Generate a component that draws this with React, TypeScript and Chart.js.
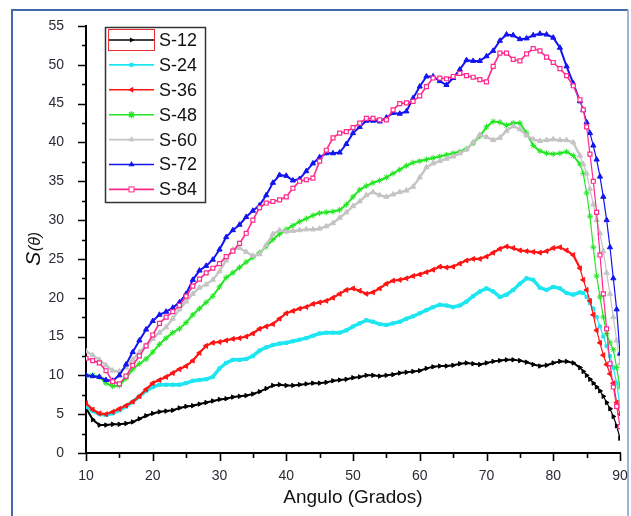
import { useEffect, useRef } from "react";
import { Chart, registerables } from "chart.js";

Chart.register(...registerables);

// Angles (degrees)
const ANGLES = [
  10, 11, 12, 13, 14, 15, 16, 17, 18, 19,
  20, 21, 22, 23, 24, 25, 26, 27, 28, 29,
  30, 31, 32, 33, 34, 35, 36, 37, 38, 39,
  40, 41, 42, 43, 44, 45, 46, 47, 48, 49,
  50, 51, 52, 53, 54, 55, 56, 57, 58, 59,
  60, 61, 62, 63, 64, 65, 66, 67, 68, 69,
  70, 71, 72, 73, 74, 75, 76, 77, 78, 79,
  80, 81, 82, 83, 84,
  84.5, 85, 85.5, 86, 86.5, 87, 87.5, 88, 88.5, 89, 89.5, 90,
];

const S12 = [
  5.8, 4.3, 3.6, 3.6, 3.7, 3.7, 3.8, 4.0, 4.4, 4.8,
  5.1, 5.3, 5.4, 5.5, 5.8, 6.0, 6.1, 6.3, 6.5, 6.7,
  6.9, 7.0, 7.2, 7.3, 7.4, 7.6, 7.9, 8.3, 8.7, 8.8,
  8.7, 8.7, 8.8, 8.9, 9.0, 9.0, 9.1, 9.3, 9.4, 9.5,
  9.7, 9.8, 10.0, 10.0, 9.9, 10.0, 10.1, 10.3, 10.4, 10.5,
  10.6, 10.9, 11.1, 11.2, 11.2, 11.3, 11.5, 11.6, 11.5, 11.4,
  11.6, 11.8, 11.9, 12.0, 12.0, 11.9, 11.7, 11.4, 11.2, 11.3,
  11.6, 11.8, 11.8, 11.6, 11.0,
  10.5, 10.0, 9.5, 9.0, 8.5, 8.0, 7.3, 6.5, 5.7, 4.7, 3.5, 1.9,
];

const S24 = [
  6.0, 5.4, 5.0, 4.9, 5.1, 5.5, 6.0, 6.6, 7.3, 8.0,
  8.5, 8.8, 8.8, 8.8, 8.8, 9.0, 9.3, 9.4, 9.5, 9.8,
  10.9, 11.6, 12.0, 12.0, 12.1, 12.5, 13.2, 13.6, 13.9, 14.1,
  14.2, 14.4, 14.6, 14.8, 15.1, 15.4, 15.5, 15.5, 15.5, 15.8,
  16.3, 16.7, 17.1, 16.9, 16.6, 16.5, 16.7, 16.9, 17.3, 17.6,
  18.0, 18.4, 18.8, 19.1, 19.0, 18.8, 19.0, 19.5, 20.2, 20.8,
  21.2, 20.8, 20.1, 20.4, 21.0, 21.8, 22.5, 22.3, 21.3, 21.0,
  21.4, 21.2, 20.6, 20.4, 20.7,
  20.6, 20.1, 19.3, 18.6, 17.5, 16.3, 15.0, 13.8, 12.5, 11.0, 9.0, 6.0,
];

const S36 = [
  6.4, 5.6, 5.1, 5.0, 5.3, 5.7, 6.1, 6.6, 7.3, 8.2,
  9.0, 9.4, 9.8, 10.3, 10.8, 11.2, 11.9, 12.9, 13.8, 14.2,
  14.3, 14.5, 14.7, 14.8, 15.0, 15.4, 16.0, 16.3, 16.6, 17.3,
  18.0, 18.3, 18.6, 18.8, 19.2, 19.4, 19.6, 20.0, 20.5, 21.0,
  21.2, 20.9, 20.5, 20.7, 21.2, 21.8, 22.2, 22.3, 22.5, 22.8,
  23.0, 23.3, 23.6, 24.0, 23.9, 24.0, 24.4, 24.8, 25.0, 25.0,
  25.3, 25.8, 26.3, 26.6, 26.4, 26.1, 26.0, 25.9, 25.8, 26.0,
  26.4, 26.5, 26.1, 25.5, 23.8,
  22.3, 21.0, 19.6, 17.8, 15.8, 14.2, 12.6, 11.4, 10.2, 9.0, 6.5, 5.0,
];

const S48 = [
  10.0, 10.0, 9.8, 9.0, 8.6, 8.7, 9.6, 10.8, 11.5, 12.1,
  13.0, 14.0, 14.8, 15.5, 16.0, 16.8, 17.8, 18.6, 19.4, 20.2,
  21.4, 22.6, 23.2, 23.9, 24.6, 25.2, 25.8, 26.6, 27.5, 28.2,
  28.8, 29.3, 29.8, 30.2, 30.6, 30.9, 31.0, 31.1, 31.3, 32.0,
  33.0, 33.9, 34.4, 34.8, 35.1, 35.5, 36.0, 36.5, 37.0, 37.4,
  37.6, 37.8, 38.0, 38.2, 38.4, 38.6, 38.8, 39.2, 39.9, 40.8,
  42.0, 42.7, 42.6, 42.2, 42.5, 42.5, 41.2, 39.6, 38.9, 38.6,
  38.5, 38.6, 38.8, 38.3, 37.2,
  36.0, 33.5, 30.5, 26.5, 22.8, 20.1, 17.5, 15.4, 14.2, 13.3, 11.0, 8.5,
];

const S60 = [
  13.1, 12.6, 12.0, 11.3, 10.6, 10.5, 11.0, 12.0, 13.0, 13.8,
  14.7, 15.5, 16.2, 17.3, 18.5, 19.5, 20.5, 21.3, 21.7, 22.3,
  23.4, 24.8, 26.2, 26.4, 25.9, 25.4, 25.6, 26.8, 28.2, 28.7,
  28.5, 28.6, 28.7, 28.8, 28.8, 28.9, 29.2, 29.6, 30.3, 31.0,
  31.8, 32.4, 33.2, 33.6, 33.2, 33.0, 33.3, 33.6, 33.8, 34.3,
  35.5, 36.8, 37.3, 37.6, 37.9, 38.2, 38.6, 39.1, 40.0, 41.0,
  40.7, 40.3, 40.6, 41.5, 42.1, 41.7, 40.9, 40.4, 40.2, 40.3,
  40.4, 40.3, 40.3, 40.0, 38.3,
  37.2, 36.0, 34.0, 32.0, 30.0, 28.3, 26.0, 23.2, 20.5, 17.5, 14.5, 11.5,
];

const S72 = [
  10.0, 9.9, 9.8, 9.4, 9.3, 10.0, 11.4, 13.0, 14.5, 15.9,
  17.0, 17.8, 18.2, 18.7, 19.4, 20.5, 22.3, 23.5, 24.1, 24.9,
  26.2, 27.8, 28.7, 29.4, 30.4, 31.2, 31.9, 33.2, 34.8, 35.8,
  35.7, 35.1, 35.3, 36.3, 37.3, 38.1, 38.6, 38.6, 38.7, 39.8,
  41.2, 42.0, 42.8, 42.8, 42.7, 43.2, 43.8, 43.7, 44.0, 45.7,
  47.2, 48.5, 48.5, 47.9, 47.4, 48.3, 49.4, 50.6, 50.5, 50.5,
  51.1, 51.8, 53.1, 53.9, 53.8, 53.3, 53.4, 53.8, 54.0, 53.9,
  53.5, 52.2, 49.8, 47.6, 45.3,
  44.2, 42.6, 41.2, 39.6, 37.8, 35.6, 33.0, 30.0, 26.5, 22.5, 18.5, 12.8,
];

const S84 = [
  12.2, 11.9, 11.6, 10.6, 9.2, 8.9, 9.9, 11.3, 12.5, 13.8,
  15.2, 16.7, 17.5, 18.2, 19.0, 20.2, 21.5, 22.4, 23.2, 23.8,
  24.4, 25.3, 26.0, 27.0, 28.3, 30.0, 31.6, 32.2, 32.4, 32.6,
  33.0, 34.1, 35.0, 35.2, 35.4, 37.6, 39.0, 40.6, 41.2, 41.4,
  41.9, 42.5, 43.1, 43.1, 42.9, 42.9, 44.2, 45.0, 45.1, 45.3,
  46.0, 47.2, 48.3, 48.3, 48.2, 48.5, 48.9, 48.6, 48.4, 48.1,
  47.8, 49.8, 51.5, 51.5, 50.7, 50.5, 51.4, 52.1, 51.8, 51.0,
  50.3, 49.5, 48.6, 47.3, 45.5,
  44.2, 42.0, 38.5, 35.0, 31.0, 25.5, 20.5, 16.0, 11.5, 8.5, 6.0, 3.4,
];

const SERIES_NAMES = ["S-12", "S-24", "S-36", "S-48", "S-60", "S-72", "S-84"];
const SERIES_VALUES = [S12, S24, S36, S48, S60, S72, S84];
const SERIES_COLORS = ["#000000", "#1ee6f0", "#ff1414", "#22e622", "#c4c4c4", "#1414f0", "#ff2a8c"];
// marker kinds: tr = right triangle, sq = filled square, tl = left triangle, st = star, tu = up triangle, osq = open square
const SERIES_MARKERS = ["tr", "sq", "tl", "st", "tu", "tu", "osq"];
const SERIES_WIDTHS = [2, 3.5, 2.2, 2, 2.4, 2, 1.6];

const X_TICKS = [10, 20, 30, 40, 50, 60, 70, 80, 90];
const Y_TICKS = [0, 5, 10, 15, 20, 25, 30, 35, 40, 45, 50, 55];

const FONT = "Arial, 'Liberation Sans', Helvetica, sans-serif";

function markerStyle(kind: string) {
  switch (kind) {
    case "tr":
      return { pointStyle: "triangle", rotation: 90, radius: 2.5 };
    case "tl":
      return { pointStyle: "triangle", rotation: -90, radius: 2.8 };
    case "sq":
      return { pointStyle: "rect", rotation: 0, radius: 2.2 };
    case "st":
      return { pointStyle: "star", rotation: 0, radius: 3 };
    case "tu":
      return { pointStyle: "triangle", rotation: 0, radius: 3 };
    case "osq":
      return { pointStyle: "rect", rotation: 0, radius: 2.8 };
    default:
      return { pointStyle: "circle", rotation: 0, radius: 2 };
  }
}

function drawMarker(ctx: CanvasRenderingContext2D, kind: string, x: number, y: number, color: string) {
  ctx.save();
  ctx.fillStyle = color;
  ctx.strokeStyle = color;
  ctx.lineWidth = 1;
  const tri = (rot: number, r: number) => {
    ctx.beginPath();
    for (let k = 0; k < 3; k++) {
      const a = rot + (k * 2 * Math.PI) / 3;
      const px = x + r * Math.sin(a);
      const py = y - r * Math.cos(a);
      if (k === 0) ctx.moveTo(px, py);
      else ctx.lineTo(px, py);
    }
    ctx.closePath();
    ctx.fill();
  };
  if (kind === "tr") tri(Math.PI / 2, 3);
  else if (kind === "tl") tri(-Math.PI / 2, 3.5);
  else if (kind === "tu") tri(0, 3.5);
  else if (kind === "sq") ctx.fillRect(x - 2, y - 2, 4, 4);
  else if (kind === "osq") {
    ctx.fillStyle = "#ffffff";
    ctx.fillRect(x - 2.5, y - 2.5, 5, 5);
    ctx.strokeRect(x - 2.5, y - 2.5, 5, 5);
  } else if (kind === "st") {
    ctx.lineWidth = 1.4;
    ctx.beginPath();
    for (let k = 0; k < 4; k++) {
      const a = (k * Math.PI) / 4;
      ctx.moveTo(x - 3.5 * Math.cos(a), y - 3.5 * Math.sin(a));
      ctx.lineTo(x + 3.5 * Math.cos(a), y + 3.5 * Math.sin(a));
    }
    ctx.stroke();
  }
  ctx.restore();
}

const decorPlugin = {
  id: "decor",
  beforeDraw(chart: any) {
    const ctx: CanvasRenderingContext2D = chart.ctx;
    ctx.save();
    ctx.fillStyle = "#ffffff";
    ctx.fillRect(0, 0, chart.width, chart.height);
    // frame
    ctx.lineWidth = 2;
    ctx.strokeStyle = "#4469aa";
    ctx.beginPath();
    ctx.moveTo(12, chart.height + 2);
    ctx.lineTo(12, 10);
    ctx.lineTo(628, 10);
    ctx.stroke();
    ctx.strokeStyle = "#9fb4da";
    ctx.beginPath();
    ctx.moveTo(628, 10);
    ctx.lineTo(628, chart.height + 2);
    ctx.stroke();
    ctx.restore();
  },
  afterDraw(chart: any) {
    const ctx: CanvasRenderingContext2D = chart.ctx;
    const xs = chart.scales.x;
    const ys = chart.scales.y;
    const area = chart.chartArea;
    ctx.save();
    // ticks
    ctx.strokeStyle = "#000000";
    ctx.lineWidth = 1.6;
    ctx.beginPath();
    for (let v = ys.min; v <= ys.max + 0.001; v += 2.5) {
      const py = Math.round(ys.getPixelForValue(v)) + 0.5;
      const major = Math.abs(v % 5) < 0.001;
      ctx.moveTo(area.left, py);
      ctx.lineTo(area.left - (major ? 8 : 4), py);
    }
    for (let v = xs.min; v <= xs.max + 0.001; v += 5) {
      const px = Math.round(xs.getPixelForValue(v)) + 0.5;
      const major = Math.abs(v % 10) < 0.001;
      ctx.moveTo(px, area.bottom);
      ctx.lineTo(px, area.bottom + (major ? 8 : 5));
    }
    ctx.stroke();

    // axis titles
    ctx.fillStyle = "#111111";
    ctx.font = `19px ${FONT}`;
    ctx.textAlign = "center";
    ctx.textBaseline = "middle";
    ctx.fillText("Angulo (Grados)", (area.left + area.right) / 2, 498);

    ctx.save();
    ctx.translate(33, 249);
    ctx.rotate(-Math.PI / 2);
    ctx.textBaseline = "alphabetic";
    ctx.textAlign = "left";
    ctx.font = `italic 21px ${FONT}`;
    const sW = ctx.measureText("S").width;
    ctx.font = `italic 16px ${FONT}`;
    const rW = ctx.measureText("(θ)").width;
    const start = -(sW + rW) / 2;
    ctx.font = `italic 21px ${FONT}`;
    ctx.fillText("S", start, 7);
    ctx.font = `italic 16px ${FONT}`;
    ctx.fillText("(θ)", start + sW + 0.5, 7);
    ctx.restore();

    // legend
    const lx = 105.5;
    const ly = 27.5;
    const lw = 100;
    const lh = 175;
    ctx.fillStyle = "#ffffff";
    ctx.fillRect(lx, ly, lw, lh);
    ctx.strokeStyle = "#333333";
    ctx.lineWidth = 1.5;
    ctx.strokeRect(lx, ly, lw, lh);
    for (let i = 0; i < SERIES_NAMES.length; i++) {
      const cy = 40 + i * 24.9;
      ctx.strokeStyle = SERIES_COLORS[i];
      ctx.lineWidth = 1.6;
      ctx.beginPath();
      ctx.moveTo(109, cy);
      ctx.lineTo(154, cy);
      ctx.stroke();
      drawMarker(ctx, SERIES_MARKERS[i], 131.5, cy, SERIES_COLORS[i]);
      ctx.fillStyle = "#111111";
      ctx.font = `18px ${FONT}`;
      ctx.textAlign = "left";
      ctx.textBaseline = "middle";
      ctx.fillText(SERIES_NAMES[i], 159, cy + 1);
    }
    ctx.strokeStyle = "#e83030";
    ctx.lineWidth = 1;
    ctx.strokeRect(108.5, 29.5, 46, 21);
    ctx.restore();
  },
};

export default function App() {
  const ref = useRef<HTMLCanvasElement | null>(null);

  useEffect(() => {
    document.body.style.margin = "0";
    const canvas = ref.current;
    if (!canvas) return;

    const datasets = SERIES_NAMES.map((name, i) => {
      const m = markerStyle(SERIES_MARKERS[i]);
      const color = SERIES_COLORS[i];
      const base = SERIES_WIDTHS[i];
      return {
        label: name,
        data: ANGLES.map((a, k) => ({ x: a, y: SERIES_VALUES[i][k] })),
        borderColor: color,
        backgroundColor: SERIES_MARKERS[i] === "osq" ? "#ffffff" : color,
        borderWidth: base,
        pointStyle: m.pointStyle,
        rotation: m.rotation,
        pointRadius: m.radius,
        pointBorderWidth: SERIES_MARKERS[i] === "osq" ? 1.2 : 1,
        pointBorderColor: color,
        pointBackgroundColor: SERIES_MARKERS[i] === "osq" ? "#ffffff" : color,
        tension: 0,
        fill: false,
        order: SERIES_NAMES.length - i,
        segment: {
          borderWidth: (ctx: any) => (ctx.p0.parsed.x >= 84 ? 1.2 : base),
        },
      };
    });

    const chart = new Chart(canvas, {
      type: "line",
      data: { datasets: datasets as any },
      plugins: [decorPlugin],
      options: {
        animation: false,
        responsive: false,
        maintainAspectRatio: false,
        layout: { padding: { left: 0, right: 11, top: 26, bottom: 0 } },
        plugins: {
          legend: { display: false },
          tooltip: { enabled: false },
          title: { display: false },
        },
        scales: {
          x: {
            type: "linear",
            min: 10,
            max: 90,
            afterFit: (axis: any) => {
              axis.height = 63;
              axis.paddingLeft = 0;
              axis.paddingRight = 0;
            },
            afterBuildTicks: (axis: any) => {
              axis.ticks = X_TICKS.map((v) => ({ value: v }));
            },
            grid: { display: false },
            border: { display: true, color: "#000000", width: 2 },
            ticks: {
              padding: 7,
              color: "#2d2a33",
              font: { family: FONT, size: 14 },
              maxRotation: 0,
              autoSkip: false,
            },
          },
          y: {
            type: "linear",
            min: 0,
            max: 55,
            afterFit: (axis: any) => {
              axis.width = 86;
              axis.paddingTop = 0;
              axis.paddingBottom = 0;
            },
            afterBuildTicks: (axis: any) => {
              axis.ticks = Y_TICKS.map((v) => ({ value: v }));
            },
            grid: { display: false },
            border: { display: true, color: "#000000", width: 2 },
            ticks: {
              padding: 14,
              color: "#2d2a33",
              font: { family: FONT, size: 14 },
              autoSkip: false,
            },
          },
        },
      },
    });

    return () => {
      chart.destroy();
    };
  }, []);

  return <canvas ref={ref} width={631} height={516} style={{ display: "block" }} />;
}
